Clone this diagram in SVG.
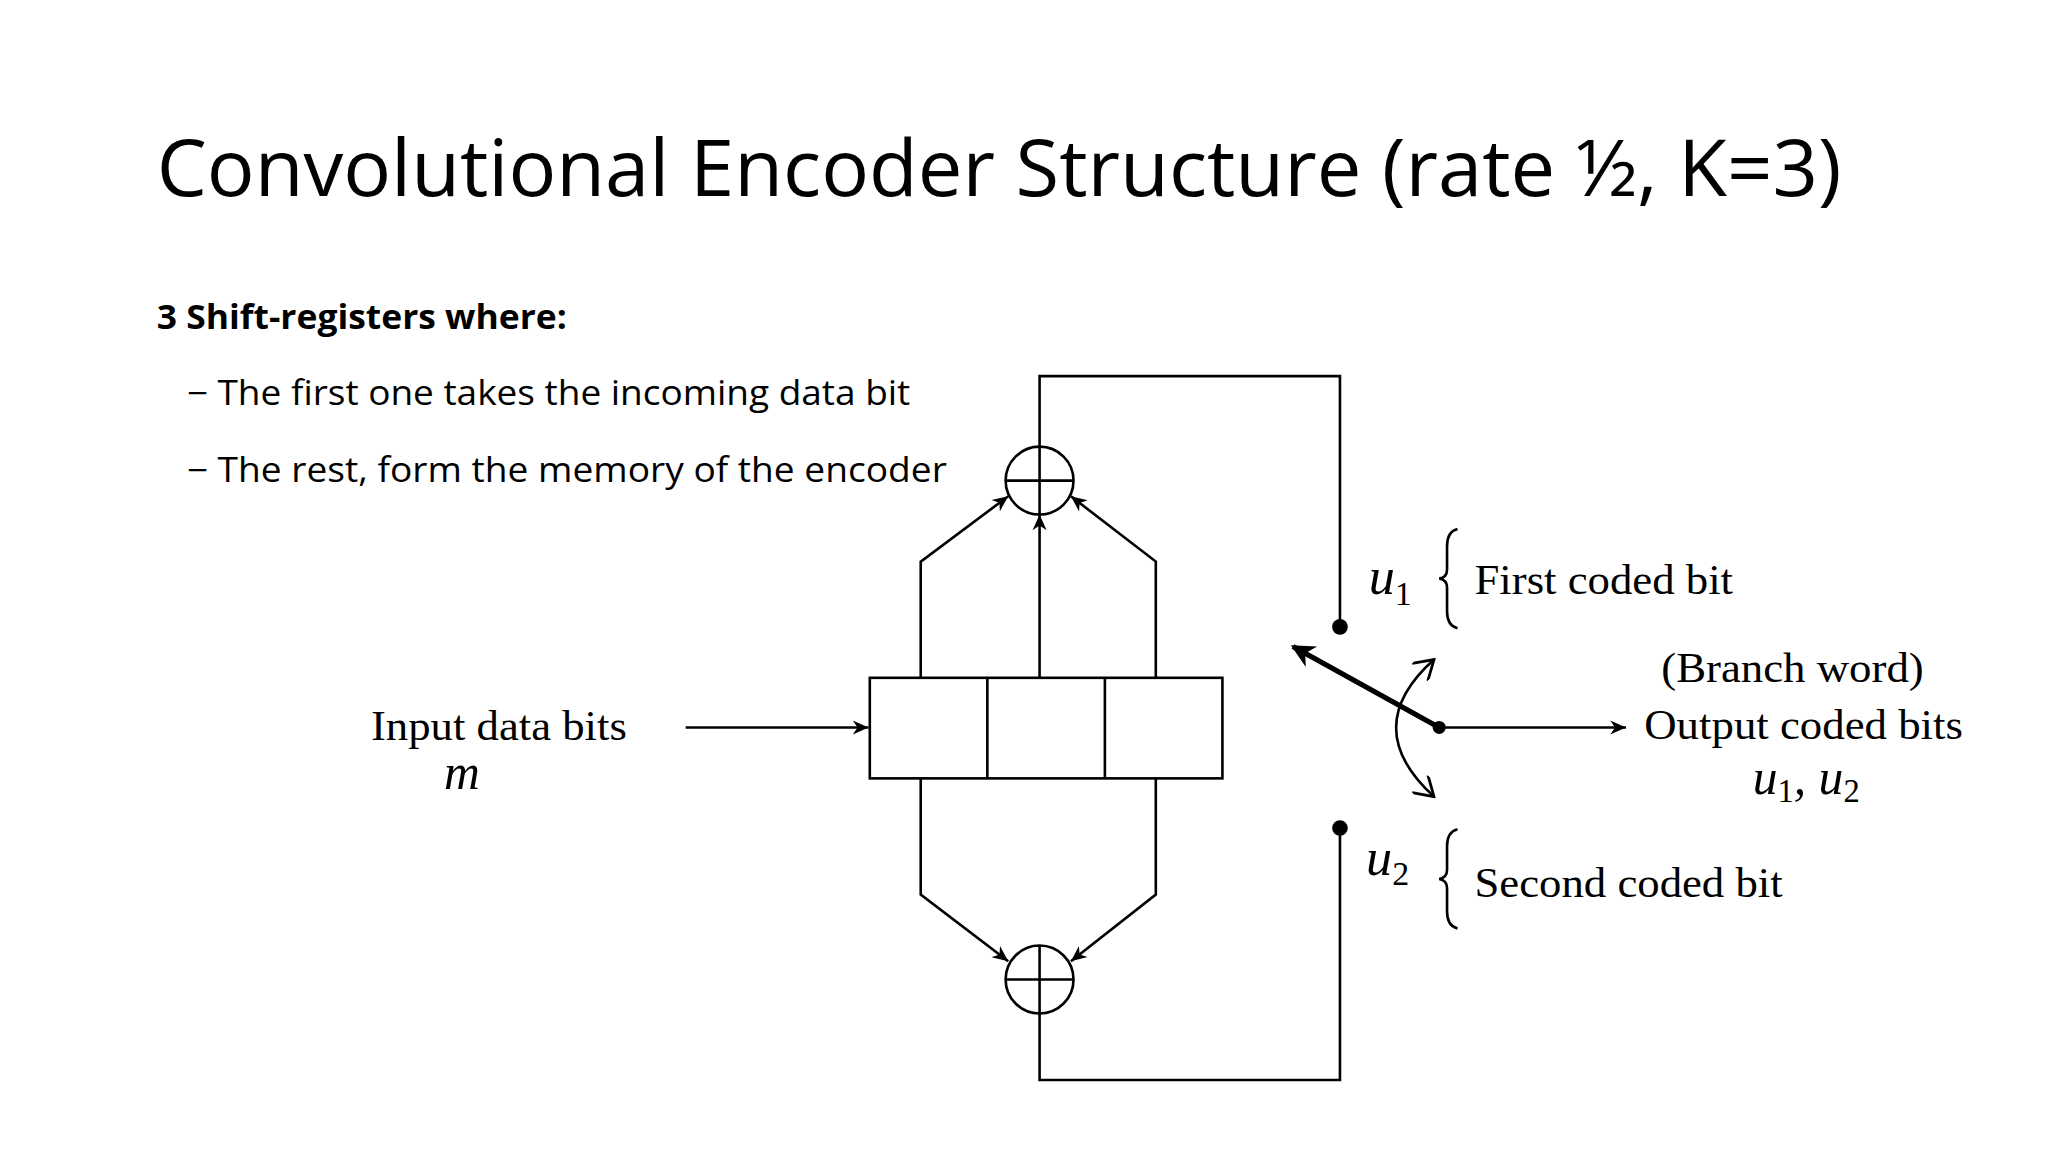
<svg xmlns="http://www.w3.org/2000/svg" width="2048" height="1152" viewBox="0 0 2048 1152">
<style>
.ln{fill:none;stroke:#000;stroke-width:2}
.ts{font-family:"Liberation Serif",serif;fill:#000}
.sl{font-family:"Open Sans","Noto Sans",sans-serif;fill:#000}
</style>
<defs>
<marker id="ah" viewBox="0 0 10 10" refX="10" refY="5" markerWidth="16" markerHeight="12" orient="auto" markerUnits="userSpaceOnUse"><path d="M0,0.5 L10,5 L0,9.5 L3,5 z" fill="#000"/></marker>
<marker id="ahb" viewBox="0 0 10 10" refX="9" refY="5" markerWidth="20" markerHeight="18" orient="auto" markerUnits="userSpaceOnUse"><path d="M0,0 L10,5 L0,10 L3,5 z" fill="#000"/></marker>
<marker id="chev" viewBox="0 0 10 10" refX="9" refY="5" markerWidth="18" markerHeight="18" orient="auto" markerUnits="userSpaceOnUse"><path d="M1,0 L9,5 L1,10" fill="none" stroke="#000" stroke-width="1.2"/></marker>
<marker id="chev0" viewBox="0 0 10 10" refX="1" refY="5" markerWidth="18" markerHeight="18" orient="auto" markerUnits="userSpaceOnUse"><path d="M9,0 L1,5 L9,10" fill="none" stroke="#000" stroke-width="1.2"/></marker>
</defs>
<rect width="2048" height="1152" fill="#fff"/>
<g transform="scale(1.306)">
<g id="title"><text class="sl" x="120" y="150" font-size="60" textLength="1290" lengthAdjust="spacingAndGlyphs">Convolutional Encoder Structure (rate ½, K=3)</text></g>
<g id="bullets">
<text class="sl" x="120" y="252" font-size="26" font-weight="bold" textLength="314" lengthAdjust="spacingAndGlyphs">3 Shift-registers where:</text>
<text class="sl" x="143" y="310" font-size="26" textLength="554" lengthAdjust="spacingAndGlyphs">− The first one takes the incoming data bit</text>
<text class="sl" x="143" y="369" font-size="26" textLength="582" lengthAdjust="spacingAndGlyphs">− The rest, form the memory of the encoder</text>
</g>
<g id="register">
<rect class="ln" x="666" y="519" width="270" height="77"/>
<line class="ln" x1="756" y1="519" x2="756" y2="596"/>
<line class="ln" x1="846" y1="519" x2="846" y2="596"/>
</g>
<g id="xor1"><circle class="ln" cx="796" cy="368" r="26"/><line class="ln" x1="770" y1="368" x2="822" y2="368"/><line class="ln" x1="796" y1="342" x2="796" y2="394"/></g>
<g id="xor2"><circle class="ln" cx="796" cy="750" r="26"/><line class="ln" x1="770" y1="750" x2="822" y2="750"/><line class="ln" x1="796" y1="724" x2="796" y2="776"/></g>
<g id="labels">
<text class="ts" x="284" y="567" font-size="33" textLength="196" lengthAdjust="spacingAndGlyphs">Input data bits</text>
<text class="ts" x="340" y="604" font-size="38" font-style="italic">m</text>
<text class="ts" x="1048" y="455" font-size="40" font-style="italic">u<tspan font-size="26" font-style="normal" dy="8">1</tspan></text>
<text class="ts" x="1129" y="455" font-size="33" textLength="198" lengthAdjust="spacingAndGlyphs">First coded bit</text>
<text class="ts" x="1046" y="670" font-size="40" font-style="italic">u<tspan font-size="26" font-style="normal" dy="8">2</tspan></text>
<text class="ts" x="1129" y="687" font-size="33" textLength="236" lengthAdjust="spacingAndGlyphs">Second coded bit</text>
<text class="ts" x="1272" y="522" font-size="33" textLength="201" lengthAdjust="spacingAndGlyphs">(Branch word)</text>
<text class="ts" x="1259" y="566" font-size="33" textLength="244" lengthAdjust="spacingAndGlyphs">Output coded bits</text>
<text class="ts" x="1342" y="608" font-size="38" font-style="italic">u<tspan font-size="25" font-style="normal" dy="6">1</tspan><tspan dy="-6">, u</tspan><tspan font-size="25" font-style="normal" dy="6">2</tspan></text>
<path class="ln" stroke-width="1.5" d="M1116,405 Q1108,407 1108,418 L1108,436 Q1108,442 1102,443 Q1108,444 1108,450 L1108,468 Q1108,479 1116,481"/>
<path class="ln" stroke-width="1.5" d="M1116,635 Q1108,637 1108,648 L1108,666 Q1108,672 1102,673 Q1108,674 1108,680 L1108,698 Q1108,709 1116,711"/>
</g>
<g id="connectors">
<polyline class="ln" points="796,342 796,288 1026,288 1026,480"/>
<polyline class="ln" points="796,776 796,827 1026,827 1026,634"/>
<circle cx="1026" cy="480" r="6" fill="#000"/>
<circle cx="1026" cy="634" r="6" fill="#000"/>
<line class="ln" x1="525" y1="557" x2="665" y2="557" marker-end="url(#ah)"/>
<line class="ln" x1="796" y1="519" x2="796" y2="394" marker-end="url(#ah)"/>
<polyline class="ln" points="705,519 705,430 772,380" marker-end="url(#ah)"/>
<polyline class="ln" points="885,519 885,430 820,380" marker-end="url(#ah)"/>
<polyline class="ln" points="705,596 705,685 772,736" marker-end="url(#ah)"/>
<polyline class="ln" points="885,596 885,685 820,736" marker-end="url(#ah)"/>
<line x1="1102" y1="557" x2="990" y2="495" stroke="#000" stroke-width="4" marker-end="url(#ahb)"/>
<circle cx="1102" cy="557" r="5" fill="#000"/>
<line class="ln" x1="1102" y1="557" x2="1245" y2="557" marker-end="url(#ah)"/>
<path class="ln" stroke-width="1.5" d="M1098,505 Q1040,557 1098,610" marker-start="url(#chev0)" marker-end="url(#chev)"/>
</g>
</g>
</svg>
